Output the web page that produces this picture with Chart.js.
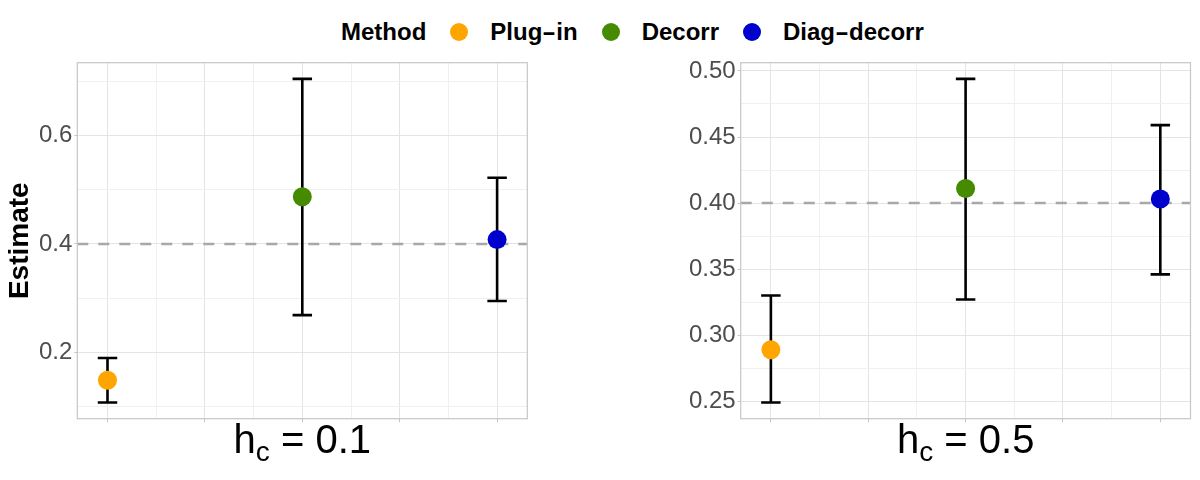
<!DOCTYPE html>
<html>
<head>
<meta charset="utf-8">
<script src="https://cdn.jsdelivr.net/npm/chart.js@4.4.0/dist/chart.umd.min.js"></script>
<style>
  body { margin: 0; background: #fff; width: 1200px; height: 480px; position: relative; overflow: hidden;
         font-family: "Liberation Sans", Arial, sans-serif; }
  canvas { position: absolute; top: 0; }
  #legend { position: absolute; left: 341px; top: 14px; height: 36px; display: flex; align-items: center;
            font-weight: bold; font-size: 24px; color: #000; white-space: nowrap; }
  #legend .dot { width: 18px; height: 18px; border-radius: 50%; display: inline-block; margin: 0 22px 0 24px; }
  #legend .hy { display: inline-block; margin: 0 3px; transform: scaleX(1.75); }
  .xtitle { position: absolute; top: 419px; font-size: 40px; line-height: 40px; color: #000;
            transform: translateX(-50%); white-space: nowrap; }
  .xtitle sub { font-size: 28px; vertical-align: -8px; line-height: 0; }
</style>
</head>
<body>
<div id="legend"><span>Method</span></div>
<canvas id="panel1" width="540" height="480" style="left:0px"></canvas>
<canvas id="panel2" width="600" height="480" style="left:600px"></canvas>

<script>
// data
const methods = ["Plug-in", "Decorr", "Diag-decorr"];
const methodColors = ["#FFA500", "#458B00", "#0000CD"];
const xPos = [1, 2, 3];
const hcValues = ["0.1", "0.5"];
const trueValue = 0.4;
const capWidth = 0.1;

const est01 = [0.149, 0.487, 0.408];
const lo01 = [0.108, 0.269, 0.295];
const hi01 = [0.190, 0.704, 0.522];

const est05 = [0.289, 0.411, 0.403];
const lo05 = [0.249, 0.327, 0.346];
const hi05 = [0.330, 0.494, 0.459];

const yMajor01 = [0.2, 0.4, 0.6];
const yMinor01 = [0.1, 0.3, 0.5, 0.7];
const yLabels01 = ["0.2", "0.4", "0.6"];

const yMajor05 = [0.25, 0.30, 0.35, 0.40, 0.45, 0.50];
const yMinor05 = [0.275, 0.325, 0.375, 0.425, 0.475];
const yLabels05 = ["0.25", "0.30", "0.35", "0.40", "0.45", "0.50"];

const xMajor = [1, 1.5, 2, 2.5, 3];
const xMinor = [1.25, 1.75, 2.25, 2.75];

Chart.defaults.font.family = '"Liberation Sans", Arial, sans-serif';

// legend
const legend = document.getElementById("legend");
methods.forEach((m, i) => {
  const dot = document.createElement("span");
  dot.className = "dot";
  dot.style.background = methodColors[i];
  legend.appendChild(dot);
  const lab = document.createElement("span");
  m.split("-").forEach((part, k) => {
    if (k > 0) {
      const hy = document.createElement("span");
      hy.className = "hy";
      hy.textContent = "-";
      lab.appendChild(hy);
    }
    lab.appendChild(document.createTextNode(part));
  });
  legend.appendChild(lab);
});

// ggplot style 5% expansion
const expand = (a, b) => [a - 0.05 * (b - a), b + 0.05 * (b - a)];

function tickList(major, minor) {
  return major.map((v) => ({ value: v, isMajor: true }))
    .concat(minor.map((v) => ({ value: v, isMajor: false })))
    .sort((a, b) => a.value - b.value);
}

function makePanel(id, est, lo, hi, yMajor, yMinor, yLabels, showTitle, yWidth, padRight, hc) {
  const yr = expand(Math.min(...lo), Math.max(...hi));
  const xr = expand(Math.min(...xPos) - capWidth / 2, Math.max(...xPos) + capWidth / 2);

  const errorBars = {
    id: "errorBars" + id,
    beforeDatasetDraw(chart, args) {
      if (args.index !== 1) return;
      const { ctx, scales } = chart;
      ctx.save();
      ctx.strokeStyle = "#000";
      ctx.lineWidth = 2.6;
      ctx.lineCap = "butt";
      xPos.forEach((x, i) => {
        const px = scales.x.getPixelForValue(x);
        const x0 = scales.x.getPixelForValue(x - capWidth / 2);
        const x1 = scales.x.getPixelForValue(x + capWidth / 2);
        const yt = scales.y.getPixelForValue(hi[i]);
        const yb = scales.y.getPixelForValue(lo[i]);
        ctx.beginPath();
        ctx.moveTo(px, yt); ctx.lineTo(px, yb);
        ctx.moveTo(x0, yt); ctx.lineTo(x1, yt);
        ctx.moveTo(x0, yb); ctx.lineTo(x1, yb);
        ctx.stroke();
      });
      ctx.restore();
    },
    afterDraw(chart) {
      const { ctx, chartArea: a } = chart;
      ctx.save();
      ctx.strokeStyle = "#c6c6c6";
      ctx.lineWidth = 1.2;
      ctx.strokeRect(a.left, a.top, a.right - a.left, a.bottom - a.top);
      ctx.restore();
    }
  };

  const gridColor = (ctx) => (ctx.tick && ctx.tick.isMajor ? "#e4e4e4" : "#f0f0f0");
  const gridTick = (ctx) => (ctx.tick && ctx.tick.isMajor ? "#c6c6c6" : "rgba(0,0,0,0)");

  new Chart(document.getElementById(id), {
    type: "scatter",
    data: {
      datasets: [
        {
          type: "line",
          data: [{ x: xr[0], y: trueValue }, { x: xr[1], y: trueValue }],
          borderColor: "#a8a8a8",
          borderWidth: 2.6,
          borderDash: [11, 10],
          pointRadius: 0,
          order: 2
        },
        {
          data: xPos.map((x, i) => ({ x: x, y: est[i] })),
          pointBackgroundColor: methodColors,
          pointBorderWidth: 0,
          pointRadius: 9.5,
          order: 1
        }
      ]
    },
    options: {
      responsive: false,
      animation: false,
      events: [],
      layout: { padding: { left: 0, right: padRight, top: 62.7, bottom: 57.3 } },
      plugins: { legend: { display: false }, tooltip: { enabled: false } },
      scales: {
        x: {
          type: "linear",
          min: xr[0],
          max: xr[1],
          afterBuildTicks: (s) => { s.ticks = tickList(xMajor, xMinor); },
          afterFit: (s) => { s.height = 4; },
          ticks: { display: false, autoSkip: false },
          grid: { color: gridColor, tickColor: gridTick, lineWidth: 1, tickLength: 3.5 },
          border: { display: false }
        },
        y: {
          type: "linear",
          min: yr[0],
          max: yr[1],
          afterBuildTicks: (s) => { s.ticks = tickList(yMajor, yMinor); },
          afterFit: (s) => { s.width = yWidth; },
          ticks: {
            autoSkip: false,
            padding: 2,
            color: "#4d4d4d",
            font: { size: 24 },
            callback: (v) => { const i = yMajor.indexOf(v); return i >= 0 ? yLabels[i] : ""; }
          },
          grid: { color: gridColor, tickColor: gridTick, lineWidth: 1, tickLength: 3 },
          border: { display: false },
          title: {
            display: showTitle,
            text: "Estimate",
            color: "#000",
            font: { size: 28, weight: "bold" },
            padding: { top: 3, bottom: 0 }
          }
        }
      }
    },
    plugins: [errorBars]
  });

  const cv = document.getElementById(id);
  const t = document.createElement("div");
  t.className = "xtitle";
  const left = parseFloat(cv.style.left);
  t.style.left = (left + yWidth + (cv.width - yWidth - padRight) / 2) + "px";
  t.innerHTML = "h<sub>c</sub> = " + hc;
  document.body.appendChild(t);
}

makePanel("panel1", est01, lo01, hi01, yMajor01, yMinor01, yLabels01, true, 77.3, 12.7, hcValues[0]);
makePanel("panel2", est05, lo05, hi05, yMajor05, yMinor05, yLabels05, false, 140.7, 9.3, hcValues[1]);
</script>
</body>
</html>
